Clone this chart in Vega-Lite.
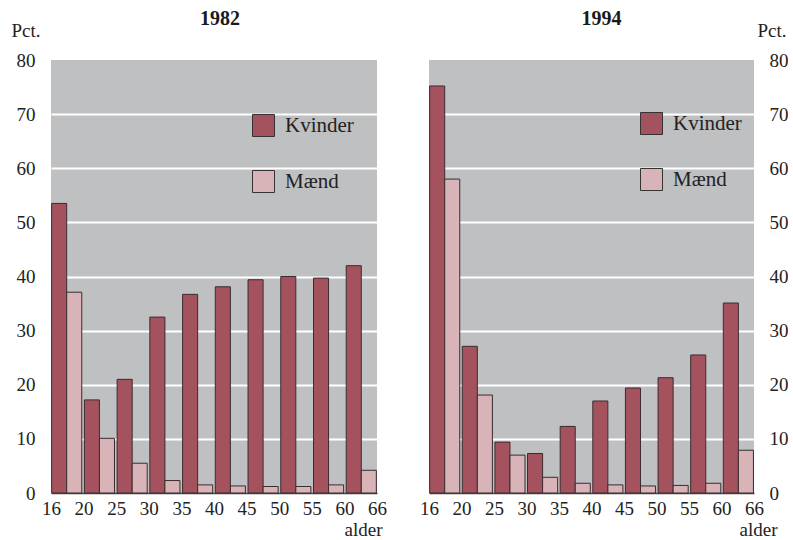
{
  "$schema": "https://vega.github.io/schema/vega-lite/v6.json",
  "background": "white",
  "padding": {"left": 11, "top": 9, "right": 0, "bottom": 0},
  "datasets": {
    "d": [
      {"year": 1982, "group": "16-19", "sex": "Kvinder", "pct": 53.5},
      {"year": 1982, "group": "16-19", "sex": "Mænd", "pct": 37.1},
      {"year": 1982, "group": "20-24", "sex": "Kvinder", "pct": 17.2},
      {"year": 1982, "group": "20-24", "sex": "Mænd", "pct": 10.1},
      {"year": 1982, "group": "25-29", "sex": "Kvinder", "pct": 21.0},
      {"year": 1982, "group": "25-29", "sex": "Mænd", "pct": 5.5},
      {"year": 1982, "group": "30-34", "sex": "Kvinder", "pct": 32.5},
      {"year": 1982, "group": "30-34", "sex": "Mænd", "pct": 2.3},
      {"year": 1982, "group": "35-39", "sex": "Kvinder", "pct": 36.7},
      {"year": 1982, "group": "35-39", "sex": "Mænd", "pct": 1.5},
      {"year": 1982, "group": "40-44", "sex": "Kvinder", "pct": 38.1},
      {"year": 1982, "group": "40-44", "sex": "Mænd", "pct": 1.3},
      {"year": 1982, "group": "45-49", "sex": "Kvinder", "pct": 39.4},
      {"year": 1982, "group": "45-49", "sex": "Mænd", "pct": 1.2},
      {"year": 1982, "group": "50-54", "sex": "Kvinder", "pct": 40.0},
      {"year": 1982, "group": "50-54", "sex": "Mænd", "pct": 1.2},
      {"year": 1982, "group": "55-59", "sex": "Kvinder", "pct": 39.7},
      {"year": 1982, "group": "55-59", "sex": "Mænd", "pct": 1.5},
      {"year": 1982, "group": "60-66", "sex": "Kvinder", "pct": 42.0},
      {"year": 1982, "group": "60-66", "sex": "Mænd", "pct": 4.2},
      {"year": 1994, "group": "16-19", "sex": "Kvinder", "pct": 75.2},
      {"year": 1994, "group": "16-19", "sex": "Mænd", "pct": 58.0},
      {"year": 1994, "group": "20-24", "sex": "Kvinder", "pct": 27.1},
      {"year": 1994, "group": "20-24", "sex": "Mænd", "pct": 18.1},
      {"year": 1994, "group": "25-29", "sex": "Kvinder", "pct": 9.4},
      {"year": 1994, "group": "25-29", "sex": "Mænd", "pct": 7.0},
      {"year": 1994, "group": "30-34", "sex": "Kvinder", "pct": 7.3},
      {"year": 1994, "group": "30-34", "sex": "Mænd", "pct": 2.9},
      {"year": 1994, "group": "35-39", "sex": "Kvinder", "pct": 12.3},
      {"year": 1994, "group": "35-39", "sex": "Mænd", "pct": 1.8},
      {"year": 1994, "group": "40-44", "sex": "Kvinder", "pct": 17.0},
      {"year": 1994, "group": "40-44", "sex": "Mænd", "pct": 1.5},
      {"year": 1994, "group": "45-49", "sex": "Kvinder", "pct": 19.4},
      {"year": 1994, "group": "45-49", "sex": "Mænd", "pct": 1.3},
      {"year": 1994, "group": "50-54", "sex": "Kvinder", "pct": 21.3},
      {"year": 1994, "group": "50-54", "sex": "Mænd", "pct": 1.4},
      {"year": 1994, "group": "55-59", "sex": "Kvinder", "pct": 25.5},
      {"year": 1994, "group": "55-59", "sex": "Mænd", "pct": 1.8},
      {"year": 1994, "group": "60-66", "sex": "Kvinder", "pct": 35.1},
      {"year": 1994, "group": "60-66", "sex": "Mænd", "pct": 7.9}
    ],
    "edges": [
      {"age": "16"}, {"age": "20"}, {"age": "25"}, {"age": "30"}, {"age": "35"}, {"age": "40"},
      {"age": "45"}, {"age": "50"}, {"age": "55"}, {"age": "60"}, {"age": "66"}
    ]
  },
  "hconcat": [
    {
      "width": 326,
      "height": 433,
      "title": {"text": "1982", "dx": 6},
      "layer": [
        {
          "data": {"name": "d"},
          "transform": [{"filter": "datum.year == 1982"}],
          "mark": {"type": "bar", "stroke": "#3a2c2e", "strokeWidth": 1},
          "encoding": {
            "x": {"field": "group", "type": "nominal", "sort": null, "axis": null,
                  "scale": {"paddingInner": 0.08, "paddingOuter": 0.02}},
            "xOffset": {"field": "sex", "type": "nominal", "sort": ["Kvinder", "Mænd"],
                        "scale": {"paddingInner": 0, "paddingOuter": 0}},
            "y": {"field": "pct", "type": "quantitative",
                  "scale": {"domain": [0, 80], "nice": false},
                  "axis": {"orient": "left", "values": [0, 10, 20, 30, 40, 50, 60, 70, 80],
                           "title": "Pct.", "titleAngle": 0, "titleAlign": "left", "titleBaseline": "alphabetic",
                           "titleX": -40, "titleY": -24, "labelPadding": 16}},
            "color": {"field": "sex", "type": "nominal",
                      "scale": {"domain": ["Kvinder", "Mænd"], "range": ["#a5525f", "#d8b3b8"]},
                      "legend": {"legendX": 201, "legendY": 54}}
          }
        },
        {
          "data": {"name": "edges"},
          "mark": {"type": "rule", "opacity": 0},
          "encoding": {
            "x": {"field": "age", "type": "ordinal", "sort": null,
                  "scale": {"type": "point", "padding": 0},
                  "axis": {"title": "alder", "titleX": 331, "titleY": 42, "titleAlign": "right", "titleBaseline": "alphabetic"}}
          }
        }
      ],
      "resolve": {"scale": {"x": "independent"}}
    },
    {
      "width": 325,
      "height": 433,
      "title": {"text": "1994", "dx": 10},
      "layer": [
        {
          "data": {"name": "d"},
          "transform": [{"filter": "datum.year == 1994"}],
          "mark": {"type": "bar", "stroke": "#3a2c2e", "strokeWidth": 1},
          "encoding": {
            "x": {"field": "group", "type": "nominal", "sort": null, "axis": null,
                  "scale": {"paddingInner": 0.08, "paddingOuter": 0.02}},
            "xOffset": {"field": "sex", "type": "nominal", "sort": ["Kvinder", "Mænd"],
                        "scale": {"paddingInner": 0, "paddingOuter": 0}},
            "y": {"field": "pct", "type": "quantitative",
                  "scale": {"domain": [0, 80], "nice": false},
                  "axis": {"orient": "right", "values": [0, 10, 20, 30, 40, 50, 60, 70, 80],
                           "title": "Pct.", "titleAngle": 0, "titleAlign": "left", "titleBaseline": "alphabetic",
                           "titleX": 3, "titleY": -24, "labelPadding": 15, "labelAlign": "left"}},
            "color": {"field": "sex", "type": "nominal",
                      "scale": {"domain": ["Kvinder", "Mænd"], "range": ["#a5525f", "#d8b3b8"]},
                      "legend": {"legendX": 211, "legendY": 52}}
          }
        },
        {
          "data": {"name": "edges"},
          "mark": {"type": "rule", "opacity": 0},
          "encoding": {
            "x": {"field": "age", "type": "ordinal", "sort": null,
                  "scale": {"type": "point", "padding": 0},
                  "axis": {"title": "alder", "titleX": 348, "titleY": 42, "titleAlign": "right", "titleBaseline": "alphabetic"}}
          }
        }
      ],
      "resolve": {"scale": {"x": "independent"}}
    }
  ],
  "spacing": 32,
  "resolve": {"legend": {"color": "independent"}},
  "config": {
    "font": "Liberation Serif",
    "view": {"fill": "#bfc0c2", "stroke": null},
    "title": {"font": "Liberation Serif", "fontSize": 20, "fontWeight": "bold", "color": "#1a1a1a", "anchor": "middle", "offset": -8},
    "axis": {
      "labelFont": "Liberation Serif", "labelFontSize": 19, "labelColor": "#222",
      "titleFont": "Liberation Serif", "titleFontSize": 19, "titleFontWeight": "normal", "titleColor": "#222",
      "ticks": false
    },
    "axisY": {
      "domain": false, "grid": true, "gridColor": "white", "gridWidth": 2,
      "gridOpacity": {"condition": {"test": "datum.value == 0 || datum.value == 80", "value": 0}, "value": 1}
    },
    "axisX": {
      "labelAngle": 0, "labelPadding": 6, "grid": false,
      "domain": true, "domainColor": "#444", "domainWidth": 1.5
    },
    "legend": {
      "orient": "none", "title": null, "symbolType": "square", "symbolSize": 484,
      "symbolStrokeColor": "#333", "symbolStrokeWidth": 1, "symbolOpacity": 1,
      "labelFont": "Liberation Serif", "labelFontSize": 21, "labelColor": "#222",
      "labelOffset": 10, "rowPadding": 29
    }
  }
}
